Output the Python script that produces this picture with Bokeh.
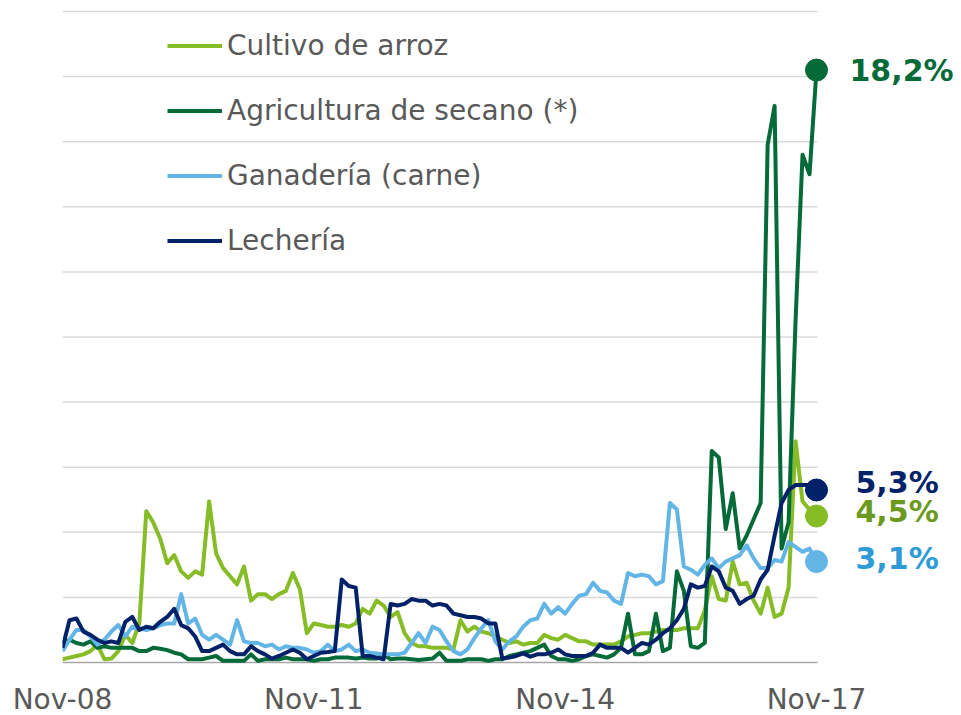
from bokeh.plotting import figure
from bokeh.models import Range1d, FixedTicker, Legend, LegendItem, ColumnDataSource
from bokeh.core.properties import value
from bokeh.embed import file_html
from bokeh.resources import INLINE

# ---------------- data (monthly, Nov-08 .. Nov-17, %) ----------------
arroz = [0.1, 0.15, 0.2, 0.25, 0.35, 0.55, 0.1, 0.12, 0.35, 0.85,
         0.6, 1.2, 4.65, 4.3, 3.8, 3.05, 3.3, 2.8, 2.6, 2.8,
         2.7, 4.95, 3.35, 2.9, 2.65, 2.4, 2.95, 1.9, 2.1, 2.1,
         1.95, 2.1, 2.2, 2.75, 2.25, 0.9, 1.2, 1.15, 1.1, 1.1,
         1.15, 1.1, 1.2, 1.65, 1.5, 1.9, 1.75, 1.4, 1.55, 0.9,
         0.6, 0.5, 0.5, 0.45, 0.45, 0.45, 0.4, 1.3, 0.95, 1.1,
         0.95, 0.9, 0.8, 0.7, 0.6, 0.65, 0.55, 0.6, 0.6, 0.85,
         0.75, 0.7, 0.85, 0.75, 0.65, 0.65, 0.55, 0.55, 0.55, 0.55,
         0.65, 0.8, 0.85, 0.9, 0.9, 0.95, 1.0, 1.0, 1.0, 1.05,
         1.05, 1.05, 1.6, 2.65, 1.95, 1.9, 3.1, 2.4, 2.45, 1.9,
         1.5, 2.3, 1.4, 1.5, 2.3, 6.8, 4.95, 4.7, 4.5]

secano = [0.6, 0.7, 0.6, 0.55, 0.65, 0.45, 0.5, 0.45, 0.45, 0.45,
          0.45, 0.35, 0.35, 0.45, 0.42, 0.38, 0.3, 0.25, 0.1, 0.1,
          0.1, 0.15, 0.2, 0.05, 0.05, 0.05, 0.05, 0.25, 0.05, 0.1,
          0.1, 0.1, 0.15, 0.1, 0.1, 0.1, 0.05, 0.1, 0.1, 0.15,
          0.15, 0.15, 0.12, 0.15, 0.12, 0.12, 0.25, 0.1, 0.12, 0.12,
          0.1, 0.08, 0.1, 0.12, 0.3, 0.05, 0.05, 0.05, 0.1, 0.1,
          0.1, 0.05, 0.1, 0.1, 0.2, 0.25, 0.3, 0.35, 0.45, 0.55,
          0.2, 0.1, 0.1, 0.05, 0.1, 0.2, 0.25, 0.2, 0.15, 0.25,
          0.45, 1.5, 0.25, 0.25, 0.35, 1.5, 0.35, 0.45, 2.8, 2.2,
          0.5, 0.45, 0.6, 6.5, 6.3, 4.1, 5.2, 3.5, 3.9, 4.4,
          4.9, 15.9, 17.1, 3.5, 4.3, 10.5, 15.6, 15.0, 18.2]

carne = [0.35, 0.7, 1.0, 1.0, 0.8, 0.55, 0.7, 0.95, 1.15, 0.8,
         1.1, 1.05, 1.0, 1.05, 1.15, 1.2, 1.2, 2.1, 1.2, 1.35,
         0.85, 0.7, 0.85, 0.7, 0.55, 1.3, 0.65, 0.6, 0.6, 0.5,
         0.55, 0.4, 0.5, 0.45, 0.45, 0.4, 0.3, 0.35, 0.55, 0.35,
         0.4, 0.55, 0.35, 0.4, 0.3, 0.28, 0.25, 0.25, 0.25, 0.3,
         0.6, 0.9, 0.6, 1.1, 1.0, 0.65, 0.35, 0.25, 0.4, 0.75,
         1.05, 1.3, 0.65, 0.4, 0.65, 0.8, 1.1, 1.3, 1.35, 1.8,
         1.5, 1.7, 1.5, 1.8, 2.05, 2.1, 2.45, 2.2, 2.15, 1.9,
         1.8, 2.75, 2.65, 2.7, 2.65, 2.4, 2.5, 4.9, 4.7, 2.95,
         2.85, 2.7, 3.0, 3.2, 2.9, 3.1, 3.2, 3.3, 3.6, 3.2,
         2.9, 2.9, 3.15, 3.1, 3.7, 3.55, 3.4, 3.5, 3.1]

lecheria = [0.45, 1.3, 1.35, 0.95, 0.85, 0.7, 0.6, 0.65, 0.6, 1.25,
            1.4, 1.0, 1.1, 1.05, 1.25, 1.4, 1.65, 1.15, 1.05, 0.8,
            0.35, 0.35, 0.45, 0.55, 0.35, 0.25, 0.25, 0.5, 0.35, 0.25,
            0.12, 0.2, 0.3, 0.4, 0.3, 0.1, 0.2, 0.3, 0.32, 0.35,
            2.55, 2.35, 2.3, 0.2, 0.2, 0.15, 0.1, 1.8, 1.75, 1.8,
            1.95, 1.9, 1.9, 1.75, 1.8, 1.75, 1.5, 1.45, 1.4, 1.4,
            1.35, 1.2, 1.2, 0.12, 0.15, 0.2, 0.28, 0.18, 0.25, 0.25,
            0.3, 0.4, 0.25, 0.2, 0.2, 0.2, 0.3, 0.55, 0.45, 0.45,
            0.45, 0.3, 0.45, 0.6, 0.55, 0.7, 0.9, 1.05, 1.3, 1.65,
            2.4, 2.3, 2.35, 2.95, 2.8, 2.3, 2.2, 1.8, 1.95, 2.05,
            2.55, 2.85, 3.9, 4.9, 5.3, 5.45, 5.45, 5.45, 5.3]

series_names = ["Cultivo de arroz", "Agricultura de secano (*)",
                "Ganadería (carne)", "Lechería"]
tick_labels = ["Nov-08", "Nov-11", "Nov-14", "Nov-17"]
grid_values = [2, 4, 6, 8, 10, 12, 14, 16, 18, 20]

# month categories
abbr = ["Ene", "Feb", "Mar", "Abr", "May", "Jun", "Jul", "Ago", "Sep", "Oct", "Nov", "Dic"]
n = len(arroz)
meses = [f"{abbr[(10 + k) % 12]}-{(8 + (10 + k) // 12):02d}" for k in range(n)]
tick_idx = [meses.index(t) for t in tick_labels]
xs = list(range(n))
last = n - 1

# ---------------- styles ----------------
FONT = "DejaVu Sans"
line_colors = ["#86BC25", "#046A38", "#62B5E5", "#012169"]
label_colors = ["#6B9A1F", "#046A38", "#2E9BD6", "#012169"]
label_dy = [-5, 0, -3, -7]
label_dx = [39, 33, 39, 39]

FRAME_W, FRAME_H = 891, 657
px_x = 754 / last
px_y = 651 / 20
x_range = Range1d(0, FRAME_W / px_x)
y_range = Range1d(-3 / px_y, 20 + 3 / px_y)

p = figure(frame_width=FRAME_W, frame_height=FRAME_H,
           x_range=x_range, y_range=y_range,
           output_backend="svg", toolbar_location=None,
           y_axis_location=None,
           min_border_left=62, min_border_right=0,
           min_border_top=8, min_border_bottom=45)
p.xgrid.visible = False
p.ygrid.visible = False
p.outline_line_color = None
p.background_fill_color = "white"

# gridlines
x_grid_end = last + 0.15
p.segment(x0=[0] * len(grid_values), x1=[x_grid_end] * len(grid_values),
          y0=grid_values, y1=grid_values, line_color="#D9D9D9", line_width=1.5)
p.segment(x0=[0], x1=[x_grid_end], y0=[0], y1=[0], line_color="#A6A6A6", line_width=1.5)

all_series = [arroz, secano, carne, lecheria]
renderers = []
for vals, col in zip(all_series, line_colors):
    r = p.line(x=xs, y=vals, line_color=col, line_width=4, line_join="round")
    renderers.append(r)

# end dots and labels
last_vals = [s[-1] for s in all_series]
p.scatter(x=[last] * 4, y=last_vals, size=22, fill_color=line_colors,
          line_color=line_colors)
lab_src = ColumnDataSource(dict(
    x=[last] * 4, y=last_vals,
    text=[f"{v:.1f}".replace(".", ",") + "%" for v in last_vals],
    color=label_colors, dx=label_dx, dy=label_dy))
p.text(x="x", y="y", text="text", text_color="color", x_offset="dx", y_offset="dy",
       source=lab_src, text_font=value(FONT), text_font_size="30px",
       text_font_style="bold", text_baseline="middle", text_align="left")

# legend
legend = Legend(items=[LegendItem(label=nm, renderers=[r]) for nm, r in zip(series_names, renderers)],
                location=(105, 408.5), padding=0, margin=0, spacing=32,
                glyph_width=55, glyph_height=33, label_height=33, label_standoff=5,
                label_text_font=FONT, label_text_font_size="28px",
                label_text_color="#595959", border_line_color=None,
                background_fill_alpha=0)
p.add_layout(legend)

# x axis
p.xaxis.ticker = FixedTicker(ticks=tick_idx)
p.xaxis.major_label_overrides = {i: t for i, t in zip(tick_idx, tick_labels)}
p.xaxis.axis_line_color = None
p.xaxis.major_tick_line_color = None
p.xaxis.minor_tick_line_color = None
p.xaxis.major_label_text_font = FONT
p.xaxis.major_label_text_font_size = "28px"
p.xaxis.major_label_text_color = "#595959"
p.xaxis.major_label_standoff = 11

open("out.html", "w").write(file_html(p, INLINE))
